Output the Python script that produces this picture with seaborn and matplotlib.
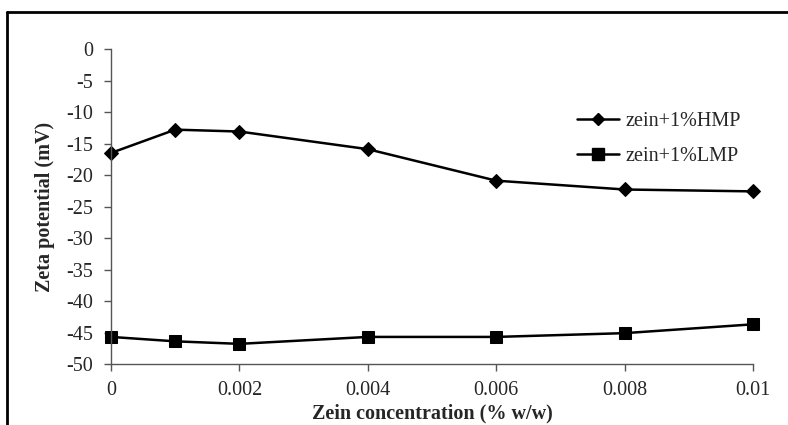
import matplotlib
matplotlib.use("Agg")
import matplotlib.pyplot as plt
import seaborn as sns
import pandas as pd
from matplotlib.lines import Line2D

conc = [0, 0.001, 0.002, 0.004, 0.006, 0.008, 0.01]
hmp = [-16.5, -12.8, -13.1, -15.9, -20.9, -22.3, -22.6]
lmp = [-45.7, -46.4, -46.8, -45.7, -45.7, -45.1, -43.7]
xticks = [0, 0.002, 0.004, 0.006, 0.008, 0.01]
xticklabels = ["0", "0.002", "0.004", "0.006", "0.008", "0.01"]
yticks = list(range(-50, 1, 5))

sns.set_theme(style="white")
plt.rcParams['font.family'] = ['Liberation Serif', 'DejaVu Serif']
plt.rcParams['axes.unicode_minus'] = False

df = pd.DataFrame({
    "conc": conc * 2,
    "zeta": hmp + lmp,
    "series": ["zein+1%HMP"] * len(conc) + ["zein+1%LMP"] * len(conc),
})

fig = plt.figure(figsize=(7.88, 4.25), dpi=100)
ax = fig.add_axes([0.1409, 0.1435, 0.8147, 0.7412])

sns.lineplot(data=df[df.series == "zein+1%HMP"], x="conc", y="zeta", ax=ax,
             color="black", lw=1.8, marker="D", markersize=7, markeredgecolor="black")
sns.lineplot(data=df[df.series == "zein+1%LMP"], x="conc", y="zeta", ax=ax,
             color="black", lw=1.8, marker="s", markersize=9, markeredgecolor="black")

ax.set_xlim(0, 0.01)
ax.set_ylim(-50, 0)
ax.set_xticks(xticks)
ax.set_xticklabels(xticklabels)
ax.set_yticks(yticks)
ax.tick_params(axis="both", which="both", direction="out", length=5, width=1,
               color="#555555", labelsize=14.5, left=True, bottom=True)
ax.tick_params(axis="y", pad=8)
ax.tick_params(axis="x", pad=7)
for s in ["top", "right"]:
    ax.spines[s].set_visible(False)
for s in ["left", "bottom"]:
    ax.spines[s].set_color("#555555")
    ax.spines[s].set_linewidth(1)
ax.patch.set_alpha(0)
for l in ax.get_lines():
    l.set_clip_on(False)

ax.set_xlabel("Zein concentration (% w/w)", fontsize=14.5, fontweight="bold", labelpad=3)
ax.set_ylabel("Zeta potential (mV)", fontsize=14.5, fontweight="bold", labelpad=8)

handles = [
    Line2D([], [], color="black", lw=1.8, marker="D", markersize=6),
    Line2D([], [], color="black", lw=1.8, marker="s", markersize=8),
]
ax.legend(handles, ["zein+1%HMP", "zein+1%LMP"], loc="upper left",
          bbox_to_anchor=(0.726, 0.80), frameon=False, fontsize=14.5,
          borderpad=0, borderaxespad=0,
          handlelength=2.1, handletextpad=0.3, labelspacing=0.8)

# outer frame (top and left edges visible)
fig.add_artist(Line2D([7 / 788, 7 / 788], [0, 1 - 12 / 425], transform=fig.transFigure,
                      color="black", lw=2))
fig.add_artist(Line2D([7 / 788, 1], [1 - 12 / 425, 1 - 12 / 425], transform=fig.transFigure,
                      color="black", lw=2))

fig.savefig("out.png", dpi=100)
